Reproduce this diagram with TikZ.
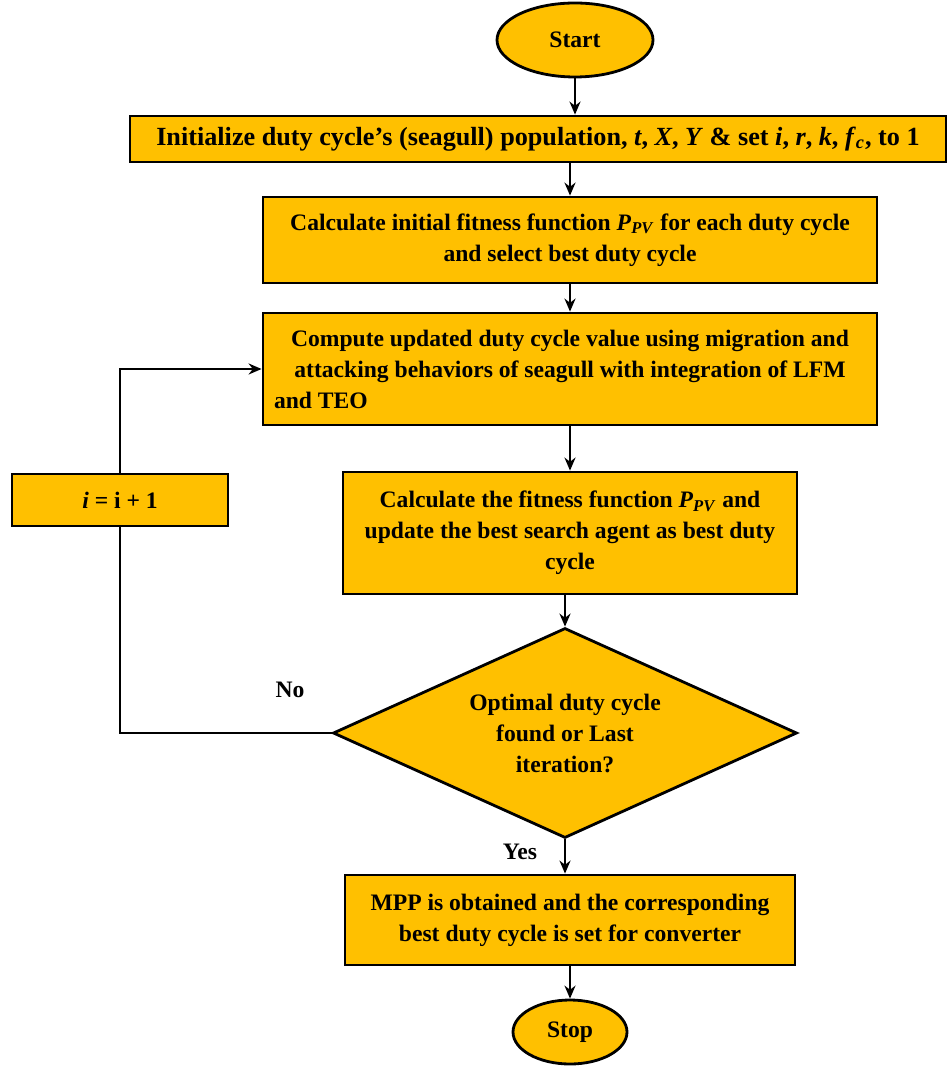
\documentclass[tikz,border=0pt]{standalone}
\usepackage{fontspec}
\setmainfont{Liberation Serif}
\usetikzlibrary{shapes.geometric,arrows.meta}
\definecolor{boxorange}{HTML}{FFC000}

\begin{document}
\begin{tikzpicture}[x=0.5pt,y=-0.5pt,>={Stealth[length=6.5pt,width=5.5pt]},
 flowbox/.style={draw, line width=1.4pt, fill=boxorange, align=center, inner sep=2pt,
  font=\fontsize{11.8}{15.5}\selectfont\bfseries},
 terminal/.style={flowbox, ellipse},
 decision/.style={flowbox, diamond, shape aspect=2.2, inner sep=0pt},
 flowline/.style={line width=1.1pt,->}]
 \useasboundingbox (0,0) rectangle (948,1068); %枠
 \node[terminal, minimum width=78pt, minimum height=37pt] (start) at (575,40) {Start}; %開始
 \node[flowbox, minimum width=408pt, minimum height=23pt, font=\fontsize{13.1}{16}\selectfont\bfseries] (init) at (538,139)
  {Initialize duty cycle's (seagull) population, \textit{t}, \textit{X}, \textit{Y} \& set \textit{i}, \textit{r}, \textit{k}, \textit{f}\textsubscript{\textit{c}}, to 1}; %初期化
 \node[flowbox, minimum width=307pt, minimum height=43pt] (fitinit) at (570,240)
  {Calculate initial fitness function \textit{P}\textsubscript{\textit{PV}} for each duty cycle\\and select best duty cycle}; %初期評価
 \node[flowbox, minimum width=307pt, minimum height=56pt] (update) at (570,369)
  {Compute updated duty cycle value using migration and\\attacking behaviors of seagull with integration of LFM\\\makebox[296pt][l]{and TEO}}; %更新
 \node[flowbox, minimum width=227pt, minimum height=61pt] (fitness) at (570,533)
  {Calculate the fitness function \textit{P}\textsubscript{\textit{PV}} and\\update the best search agent as best duty\\cycle}; %評価
 \node[decision, minimum width=232pt, minimum height=105pt] (check) at (565,733)
  {Optimal duty cycle\\found or Last\\iteration?}; %判定
 \node[flowbox, minimum width=225pt, minimum height=45pt] (mpp) at (570,920)
  {MPP is obtained and the corresponding\\best duty cycle is set for converter}; %MPP
 \node[terminal, minimum width=57pt, minimum height=32pt] (stop) at (570,1032) {Stop}; %終了
 \node[flowbox, minimum width=108pt, minimum height=26pt] (inc) at (120,500) {\textit{i} = i + 1}; %i更新
 \node[font=\fontsize{11.8}{15.5}\selectfont\bfseries] (no) at (290,690) {No}; %No
 \node[font=\fontsize{11.8}{15.5}\selectfont\bfseries] (yes) at (520,852) {Yes}; %Yes
 \draw[flowline] (start.south) -- (start.south |- init.north);
 \draw[flowline] (fitinit.north |- init.south) -- (fitinit.north);
 \draw[flowline] (fitinit.south) -- (update.north);
 \draw[flowline] (update.south) -- (fitness.north);
 \draw[flowline] (fitness.south -| check.north) -- (check.north);
 \draw[flowline] (check.south) -- (check.south |- mpp.north);
 \draw[flowline] (mpp.south) -- (stop.north);
 \draw[line width=1.1pt] (check.west) -| (inc.south); %ループ
 \draw[flowline] (inc.north) |- (update.west);
\end{tikzpicture}
\end{document}
